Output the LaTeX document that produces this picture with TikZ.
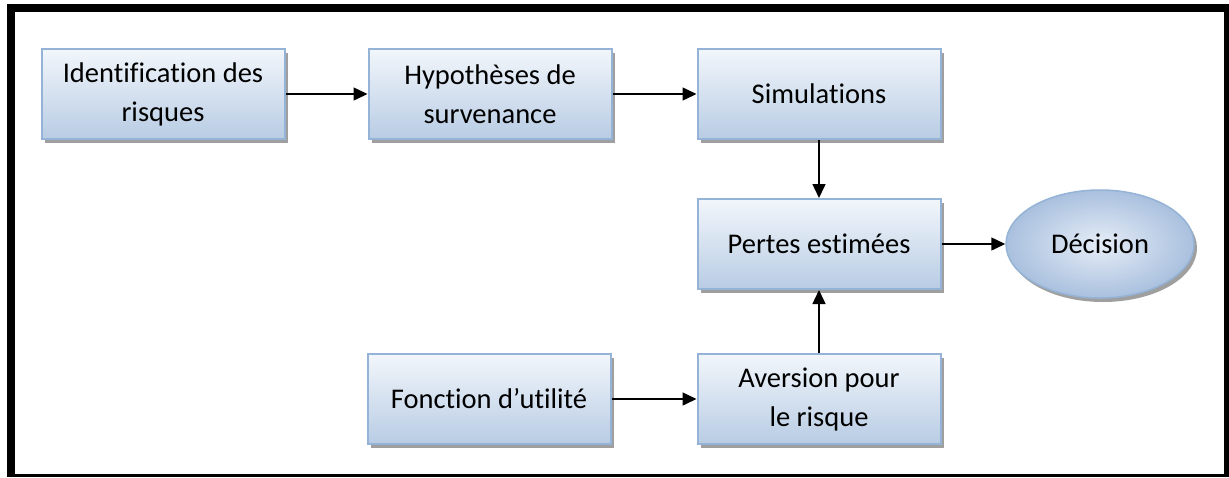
\documentclass[tikz,border=0pt]{standalone}
\usepackage{fontspec}
\setmainfont{Carlito}[Ligatures=NoCommon]
\usetikzlibrary{positioning,arrows.meta,shapes.geometric,shadows}

\definecolor{boxline}{HTML}{95B3D7}
\definecolor{boxtop}{HTML}{F2F6FB}
\definecolor{boxbottom}{HTML}{B8CCE4}
\definecolor{ovalin}{HTML}{E6EDF7}
\definecolor{ovalout}{HTML}{A9C0DE}

\begin{document}
\begin{tikzpicture}[x=1pt, y=-1pt,
  block/.style={rectangle, draw=boxline, line width=2pt, minimum width=243pt, minimum height=90pt,
    align=center, top color=boxtop, bottom color=boxbottom,
    drop shadow={shadow xshift=3pt, shadow yshift=-4pt, fill=gray!75, opacity=1},
    font=\fontsize{28.5}{39}\selectfont},
  oval/.style={ellipse, draw=boxline, line width=1.5pt, minimum width=188pt, minimum height=108pt,
    inner color=ovalin, outer color=ovalout,
    drop shadow={shadow xshift=3pt, shadow yshift=-4pt, fill=gray!75, opacity=1},
    font=\fontsize{28.5}{39}\selectfont},
  arrow/.style={-{Triangle[length=14pt, width=13pt]}, line width=1.5pt}
]
\useasboundingbox (0,0) rectangle (1229,477);

% Frame
\fill[black] (7,4) rectangle (1229,477);
\fill[white] (15,12) rectangle (1224,474);

% Top row
\node[block] (ident) at (163,94) {Identification des\\risques};
\node[block] (hypo) at (490,94) {Hypothèses de\\survenance};
\node[block] (simu) at (819,94) {Simulations};

% Middle row
\node[block] (pertes) at (819,244) {Pertes estimées};
\node[oval] (decision) at (1100,244) {Décision};

% Bottom row
\node[block] (fonction) at (489,399) {Fonction d’utilité};
\node[block] (aversion) at (819,399) {Aversion pour\\le risque};

% Arrows
\draw[arrow] (ident) -- (hypo);
\draw[arrow] (hypo) -- (simu);
\draw[arrow] (simu) -- (pertes);
\draw[arrow] (pertes) -- (decision);
\draw[arrow] (fonction) -- (aversion);
\draw[arrow] (aversion) -- (pertes);

\end{tikzpicture}
\end{document}
